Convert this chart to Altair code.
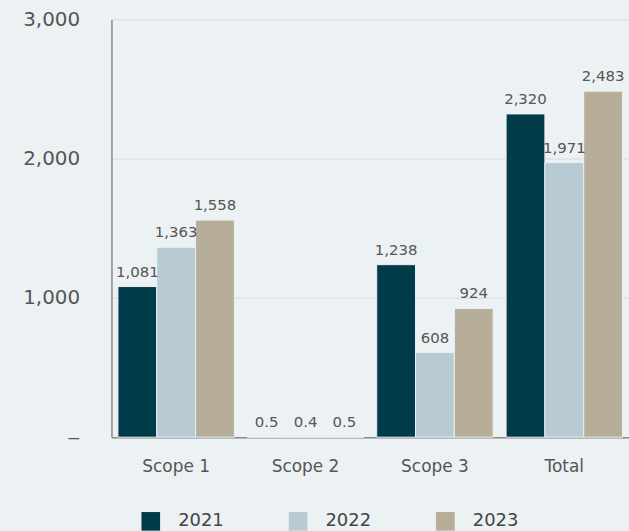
import altair as alt
import pandas as pd

categories = ["Scope 1", "Scope 2", "Scope 3", "Total"]
years = ["2021", "2022", "2023"]
v2021 = [1081, 0.5, 1238, 2320]
v2022 = [1363, 0.4, 608, 1971]
v2023 = [1558, 0.5, 924, 2483]

rows = []
for i, c in enumerate(categories):
    for y, vals in zip(years, [v2021, v2022, v2023]):
        rows.append({"category": c, "year": y, "value": vals[i]})
df = pd.DataFrame(rows)

colors = ["#003b4a", "#b8cad4", "#b7ae99"]
FONT = "DejaVu Sans"
BG = "#ecf1f4"

x = alt.X("category:N", sort=categories, title=None,
          scale=alt.Scale(paddingInner=0.1, paddingOuter=0.05),
          axis=alt.Axis(labelAngle=0, labelFontSize=17, labelColor="#555555",
                        labelFont=FONT, labelPadding=21, ticks=False,
                        domainColor="#8a8a8a", domainWidth=1.5))
xo = alt.XOffset("year:N", sort=years)

bars = alt.Chart(df).mark_bar(stroke=BG, strokeWidth=1).encode(
    x=x,
    xOffset=xo,
    y=alt.Y("value:Q", title=None,
            scale=alt.Scale(domain=[0, 3000], nice=False),
            axis=alt.Axis(values=[0, 1000, 2000, 3000], ticks=False,
                          labelExpr="datum.value == 0 ? '\u2012' : format(datum.value, ',')",
                          labelFontSize=20, labelColor="#555555", labelFont=FONT,
                          labelPadding=32, domainColor="#8a8a8a", domainWidth=1.5,
                          grid=True, gridColor="#dde3e6", gridWidth=1.5)),
    color=alt.Color("year:N", sort=years,
                    scale=alt.Scale(domain=years, range=colors),
                    legend=alt.Legend(title=None, orient="none", direction="horizontal",
                                      legendX=30, legendY=495,
                                      symbolType="square", symbolSize=350,
                                      symbolStrokeWidth=0, labelFontSize=18,
                                      labelColor="#444444", labelFont=FONT,
                                      labelOffset=18, columnPadding=65)),
)

labels = alt.Chart(df).mark_text(baseline="alphabetic", dy=-10, fontSize=15,
                                 color="#555555", font=FONT).encode(
    x=alt.X("category:N", sort=categories),
    xOffset=xo,
    y=alt.Y("value:Q"),
    text=alt.Text("label:N"),
).transform_calculate(
    label="datum.value < 1 ? format(datum.value, '.1f') : format(datum.value, ',')"
)

chart = alt.layer(bars, labels).properties(
    width=520, height=420,
    background=BG,
    padding={"left": 112, "top": 18, "right": 0, "bottom": 93},
    autosize=alt.AutoSizeParams(type="none"),
).configure_view(stroke=None)

chart.save("out.html", embed_options={"renderer": "svg", "actions": False})
